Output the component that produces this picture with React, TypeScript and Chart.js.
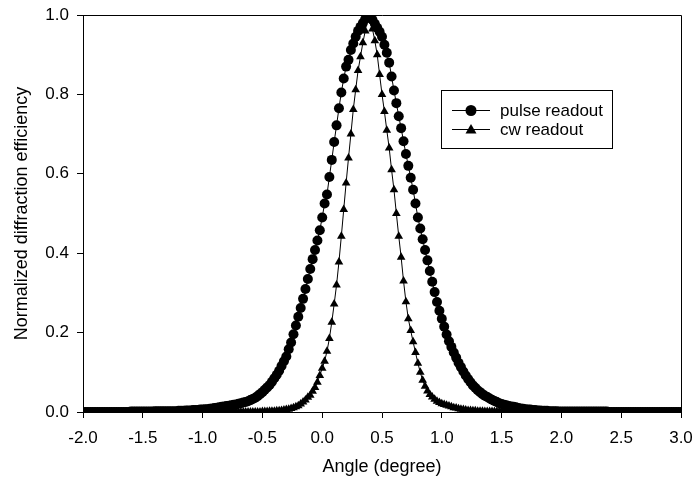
import React, { useEffect, useRef } from "react";
import { Chart, registerables } from "chart.js";

Chart.register(...registerables);

const ANGLE_START = -2.0;
const ANGLE_STEP = 0.02;

const X_TICKS = [-2.0, -1.5, -1.0, -0.5, 0.0, 0.5, 1.0, 1.5, 2.0, 2.5, 3.0];
const Y_TICKS = [0.0, 0.2, 0.4, 0.6, 0.8, 1.0];

const SERIES_LABELS = ["pulse readout", "cw readout"];

// pulse readout, angles -2.00 .. 3.00 step 0.02
const pulseReadout = [
  0, 0, 0, 0, 0, 0, 0, 0, 0, 0,
  0, 0, 0, 0, 0, 0, 0, 0, 0, 0,
  0.001, 0.001, 0.001, 0.001, 0.001, 0.001, 0.001, 0.001, 0.001, 0.001,
  0.002, 0.002, 0.002, 0.002, 0.002, 0.002, 0.002, 0.002, 0.002, 0.002,
  0.003, 0.003, 0.003, 0.004, 0.004, 0.004, 0.005, 0.005, 0.005, 0.006,
  0.006, 0.007, 0.007, 0.008, 0.009, 0.010, 0.011, 0.012, 0.013, 0.014,
  0.015, 0.016, 0.017, 0.018, 0.019, 0.021, 0.022, 0.024, 0.025, 0.027,
  0.030, 0.033, 0.036, 0.040, 0.045, 0.050, 0.056, 0.062, 0.068, 0.076,
  0.085, 0.094, 0.104, 0.116, 0.128, 0.140, 0.158, 0.175, 0.196, 0.218,
  0.240, 0.262, 0.285, 0.310, 0.335, 0.360, 0.385, 0.408, 0.432, 0.458,
  0.490, 0.525, 0.548, 0.592, 0.635, 0.680, 0.722, 0.765, 0.805, 0.840,
  0.870, 0.887, 0.912, 0.928, 0.945, 0.960, 0.970, 0.980, 0.990, 0.998,
  1.000, 0.988, 0.978, 0.968, 0.958, 0.945, 0.925, 0.905, 0.880, 0.845,
  0.810, 0.778, 0.745, 0.715, 0.682, 0.650, 0.620, 0.590, 0.560, 0.525,
  0.490, 0.462, 0.435, 0.408, 0.382, 0.355, 0.328, 0.302, 0.277, 0.255,
  0.235, 0.215, 0.195, 0.178, 0.164, 0.150, 0.137, 0.124, 0.113, 0.102,
  0.092, 0.083, 0.075, 0.067, 0.061, 0.055, 0.050, 0.045, 0.041, 0.038,
  0.034, 0.031, 0.028, 0.025, 0.022, 0.020, 0.018, 0.017, 0.015, 0.014,
  0.013, 0.012, 0.010, 0.009, 0.008, 0.007, 0.006, 0.006, 0.005, 0.005,
  0.004, 0.004, 0.003, 0.003, 0.003, 0.002, 0.002, 0.002, 0.002, 0.001,
  0.001, 0.001, 0.001, 0.001, 0.001, 0.001, 0.001, 0.001, 0.001, 0.001,
  0.001, 0.001, 0.001, 0.001, 0.001, 0.001, 0.001, 0.001, 0.001, 0.001,
  0, 0, 0, 0, 0, 0, 0, 0, 0, 0,
  0, 0, 0, 0, 0, 0, 0, 0, 0, 0,
  0, 0, 0, 0, 0, 0, 0, 0, 0, 0,
  0,
];

// cw readout, angles -2.00 .. 3.00 step 0.02
const cwReadout = [
  0, 0, 0, 0, 0, 0, 0, 0, 0, 0,
  0, 0, 0, 0, 0, 0, 0, 0, 0, 0,
  0, 0, 0, 0, 0, 0, 0, 0, 0, 0,
  0, 0, 0, 0, 0, 0, 0, 0, 0, 0,
  0, 0, 0, 0, 0, 0, 0, 0, 0, 0,
  0, 0, 0, 0, 0, 0, 0, 0, 0, 0,
  0, 0, 0, 0, 0, 0, 0, 0, 0, 0,
  0, 0, 0, 0, 0,
  0.001, 0.001, 0.001, 0.002, 0.002, 0.002, 0.003, 0.003, 0.004, 0.005,
  0.006, 0.007, 0.009, 0.011, 0.013, 0.016, 0.020, 0.025, 0.030, 0.037,
  0.042, 0.052, 0.062, 0.075, 0.092, 0.110, 0.128, 0.153, 0.185, 0.226,
  0.272, 0.320, 0.378, 0.443, 0.510, 0.577, 0.640, 0.700, 0.762, 0.812,
  0.860, 0.895, 0.930, 0.960, 0.995, 0.990, 0.965, 0.935, 0.900, 0.850,
  0.800, 0.757, 0.710, 0.665, 0.610, 0.560, 0.500, 0.443, 0.390, 0.330,
  0.278, 0.235, 0.205, 0.177, 0.150, 0.123, 0.100, 0.080, 0.065, 0.053,
  0.044, 0.038, 0.032, 0.027, 0.024, 0.021, 0.019, 0.017, 0.015, 0.013,
  0.011, 0.010, 0.008, 0.007, 0.006, 0.005, 0.004, 0.004, 0.003, 0.003,
  0.002, 0.002, 0.002, 0.001, 0.001,
  0.001, 0.001, 0.001, 0.001, 0.001, 0.001, 0.001, 0.001, 0.001, 0.001,
  0, 0, 0, 0, 0, 0, 0, 0, 0, 0,
  0, 0, 0, 0, 0, 0, 0, 0, 0, 0,
  0, 0, 0, 0, 0, 0, 0, 0, 0, 0,
  0, 0, 0, 0, 0, 0, 0, 0, 0, 0,
  0, 0, 0, 0, 0, 0, 0, 0, 0, 0,
  0, 0, 0, 0, 0, 0, 0, 0, 0, 0,
  0, 0, 0, 0, 0, 0, 0, 0, 0, 0,
  0,
];

const FONT = "'Liberation Sans', Arial, Helvetica, sans-serif";

const toPoints = (vals: number[]) =>
  vals.map((y, i) => ({ x: Math.round((ANGLE_START + i * ANGLE_STEP) * 100) / 100, y }));

const framePlugin = {
  id: "frame",
  afterDatasetsDraw(chart: any) {
    const { ctx, chartArea } = chart;
    ctx.save();
    ctx.strokeStyle = "#000";
    ctx.lineWidth = 1;
    ctx.beginPath();
    ctx.moveTo(chartArea.left, chartArea.top + 0.5);
    ctx.lineTo(chartArea.right + 0.5, chartArea.top + 0.5);
    ctx.lineTo(chartArea.right + 0.5, chartArea.bottom);
    ctx.stroke();
    ctx.restore();
  },
};

const legendPlugin = {
  id: "boxLegend",
  afterDraw(chart: any) {
    const { ctx } = chart;
    const left = 441, top = 90, w = 171, h = 58;
    ctx.save();
    ctx.fillStyle = "#fff";
    ctx.fillRect(left, top, w, h);
    ctx.strokeStyle = "#000";
    ctx.lineWidth = 1;
    ctx.strokeRect(left + 0.5, top + 0.5, w, h);
    ctx.font = `17px ${FONT}`;
    ctx.textBaseline = "middle";
    chart.data.datasets.forEach((ds: any, i: number) => {
      const y = top + 20 + i * 19;
      ctx.strokeStyle = "#000";
      ctx.beginPath();
      ctx.moveTo(452, y + 0.5);
      ctx.lineTo(490, y + 0.5);
      ctx.stroke();
      ctx.fillStyle = "#000";
      ctx.beginPath();
      if (ds.pointStyle === "triangle") {
        ctx.moveTo(471, y - 5);
        ctx.lineTo(476.5, y + 4.5);
        ctx.lineTo(465.5, y + 4.5);
        ctx.closePath();
      } else {
        ctx.arc(471, y + 0.5, 5.5, 0, Math.PI * 2);
      }
      ctx.fill();
      ctx.fillText(ds.label, 500, y + 1);
    });
    ctx.restore();
  },
};

export default function App() {
  const ref = useRef<HTMLCanvasElement | null>(null);
  useEffect(() => {
    if (!ref.current) return;
    const chart = new Chart(ref.current, {
      type: "line",
      data: {
        datasets: [
          {
            label: SERIES_LABELS[0],
            data: toPoints(pulseReadout),
            borderColor: "#000",
            backgroundColor: "#000",
            borderWidth: 1,
            pointStyle: "circle",
            pointRadius: 5,
            pointBorderWidth: 0,
            pointBackgroundColor: "#000",
          },
          {
            label: SERIES_LABELS[1],
            data: toPoints(cwReadout),
            borderColor: "#000",
            backgroundColor: "#000",
            borderWidth: 1,
            pointStyle: "triangle",
            pointRadius: 5,
            pointBorderWidth: 0,
            pointBackgroundColor: "#000",
          },
        ],
      },
      options: {
        animation: false,
        responsive: false,
        layout: { padding: { left: 0, top: 15, right: 16, bottom: 0 } },
        plugins: { legend: { display: false }, tooltip: { enabled: false } },
        scales: {
          x: {
            type: "linear",
            min: -2,
            max: 3,
            afterBuildTicks: (axis: any) => {
              axis.ticks = X_TICKS.map((v) => ({ value: v }));
            },
            afterFit: (axis: any) => {
              axis.height = 73;
              axis.paddingLeft = 0;
              axis.paddingRight = 0;
            },
            grid: { display: true, drawOnChartArea: false, drawTicks: true, tickLength: 6, color: "#000" },
            border: { display: true, color: "#000", width: 1 },
            ticks: {
              color: "#000",
              padding: 10,
              maxRotation: 0,
              font: { family: FONT, size: 17 },
              callback: (v: any) => Number(v).toFixed(1),
            },
            title: {
              display: true,
              text: "Angle (degree)",
              color: "#000",
              font: { family: FONT, size: 18 },
              padding: { top: 0, bottom: 7 },
            },
          },
          y: {
            min: 0,
            max: 1,
            afterBuildTicks: (axis: any) => {
              axis.ticks = Y_TICKS.map((v) => ({ value: v }));
            },
            afterFit: (axis: any) => {
              axis.width = 83;
              axis.paddingTop = 0;
              axis.paddingBottom = 0;
            },
            grid: { display: true, drawOnChartArea: false, drawTicks: true, tickLength: 6, color: "#000" },
            border: { display: true, color: "#000", width: 1 },
            ticks: {
              color: "#000",
              padding: 8,
              font: { family: FONT, size: 17 },
              callback: (v: any) => Number(v).toFixed(1),
            },
            title: {
              display: true,
              text: "Normalized diffraction efficiency",
              color: "#000",
              font: { family: FONT, size: 18 },
              padding: { top: 11, bottom: 0 },
            },
          },
        },
      },
      plugins: [framePlugin, legendPlugin],
    } as any);
    return () => chart.destroy();
  }, []);
  return (
    <div style={{ position: "absolute", left: 0, top: 0, width: 697, height: 485, background: "#fff" }}>
      <canvas ref={ref} width={697} height={485} style={{ display: "block" }} />
    </div>
  );
}
